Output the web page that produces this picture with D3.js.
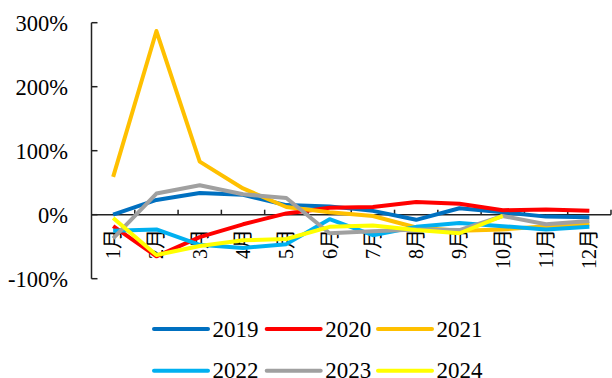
<!DOCTYPE html>
<html>
<head>
<meta charset="utf-8">
<script src="https://cdn.jsdelivr.net/npm/d3@7"></script>
<style>
  html, body { margin: 0; padding: 0; background: #fff; }
  svg { display: block; }
  text { font-family: "Liberation Serif", "Times New Roman", "Noto Sans CJK SC", serif; fill: #000; }
</style>
</head>
<body>
<svg id="chart" width="612" height="378"></svg>
<script>
// Monthly growth rates (%) by year
const months = ["1月","2月","3月","4月","5月","6月","7月","8月","9月","10月","11月","12月"];
const years  = ["2019","2020","2021","2022","2023","2024"];
const s2019 = [0, 23, 34, 31, 15, 13, 6, -8, 10, 4, -3, -4];
const s2020 = [-18, -65, -35, -15, 2, 11, 12, 20, 17, 7, 8, 6];
const s2021 = [59, 287, 83, 41, 12, 4, -2, -20, -25, -23, -18, -15];
const s2022 = [-25, -23, -47, -52, -46, -7, -32, -19, -13, -18, -23, -19];
const s2023 = [-37, 33, 46, 32, 26, -29, -26, -23, -24, -2, -15, -10];
const s2024 = [-5, -63, -49, -40, -38, -19, -17, -24, -29, -2];
const yTicks = [300, 200, 100, 0, -100];
const colors = ["#0070C0", "#FF0000", "#FFC000", "#00B0F0", "#A0A0A0", "#FFFF00"];

const series = [s2019, s2020, s2021, s2022, s2023, s2024];

const svg = d3.select("#chart");
const plotLeft = 91.5, plotRight = 611, plotTop = 22.7, plotBottom = 278.7;

const x = d3.scaleBand().domain(months).range([plotLeft, plotRight]);
const y = d3.scaleLinear().domain([-100, 300]).range([plotBottom, plotTop]);

const axisColor = "#222";

// y axis line and inward ticks
svg.append("line")
  .attr("x1", plotLeft).attr("x2", plotLeft).attr("y1", y(300)).attr("y2", y(-100))
  .attr("stroke", axisColor).attr("stroke-width", 1.5);
svg.selectAll(".ytick").data(yTicks).enter().append("line")
  .attr("x1", plotLeft).attr("x2", plotLeft + 6)
  .attr("y1", d => y(d)).attr("y2", d => y(d))
  .attr("stroke", axisColor).attr("stroke-width", 1.5);
svg.selectAll(".ylab").data(yTicks).enter().append("text")
  .attr("x", 68)
  .attr("y", d => y(d) + 8)
  .attr("text-anchor", "end")
  .attr("font-size", 22.5)
  .text(d => d + "%");

// x axis along zero with upward ticks at category boundaries
svg.append("line")
  .attr("x1", plotLeft).attr("x2", plotRight).attr("y1", y(0)).attr("y2", y(0))
  .attr("stroke", axisColor).attr("stroke-width", 1.5);
const bounds = months.map(m => x(m)).concat([plotRight]).slice(1);
svg.selectAll(".xtick").data(bounds).enter().append("line")
  .attr("x1", d => d).attr("x2", d => d)
  .attr("y1", y(0)).attr("y2", y(0) - 5)
  .attr("stroke", axisColor).attr("stroke-width", 1.5);
svg.selectAll(".xlab").data(months).enter().append("text")
  .attr("transform", d => `translate(${x(d) + x.bandwidth() / 2 + 7},229) rotate(-90)`)
  .attr("text-anchor", "end")
  .attr("font-size", 20)
  .text(d => d);

// series lines
const line = d3.line()
  .x((d, i) => x(months[i]) + x.bandwidth() / 2)
  .y(d => y(d));

series.forEach((s, k) => {
  svg.append("path")
    .datum(s)
    .attr("d", line)
    .attr("fill", "none")
    .attr("stroke", colors[k])
    .attr("stroke-width", 4)
    .attr("stroke-linejoin", "round");
});

// legend: two rows of three
const legendX = [154, 266.7, 378];
const legendY = [329, 370.7];
years.forEach((yr, k) => {
  const col = k % 3, row = Math.floor(k / 3);
  const lx = legendX[col], ly = legendY[row];
  svg.append("line")
    .attr("x1", lx).attr("x2", lx + 54).attr("y1", ly).attr("y2", ly)
    .attr("stroke", colors[k]).attr("stroke-width", 4).attr("stroke-linecap", "round");
  svg.append("text")
    .attr("x", lx + 58.5).attr("y", ly + 7.7)
    .attr("font-size", 23)
    .text(yr);
});
</script>
</body>
</html>
